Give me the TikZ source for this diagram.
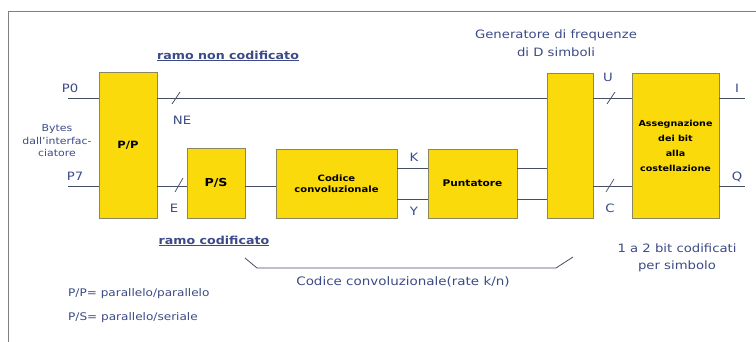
\documentclass[tikz,border=0pt]{standalone}
\usepackage{fontspec}
\setmainfont[FakeStretch=1.15]{DejaVu Sans}
\begin{document}
\begin{tikzpicture}[x=1pt,y=-1pt,
  blk/.style={draw=black!55!yellow!60!gray,line width=0.9pt,fill=yellowfill,inner sep=1pt,align=center,font=\fontsize{8.7}{11}\selectfont\bfseries},
  lbl/.style={text=labelblue,inner sep=0pt,font=\fontsize{11.5}{12}\selectfont},
  small/.style={text=labelblue,inner sep=0pt,align=center,font=\fontsize{8.5}{13}\selectfont},
  wire/.style={draw=wiregray,line width=0.9pt},
  slash/.style={draw=wiregray,line width=0.7pt}]
\definecolor{yellowfill}{RGB}{250,218,10}
\definecolor{labelblue}{RGB}{60,75,135}
\definecolor{wiregray}{RGB}{70,78,100}
\useasboundingbox (0,0) rectangle (756,342);
\fill[white] (0,0) rectangle (756,342);
% frame
\draw[gray,line width=0.8pt] (8,342) -- (8,11) -- (756,11);
% blocks
\node[blk,minimum width=58pt,minimum height=146pt,font=\fontsize{10}{11}\selectfont\bfseries] (pp) at (128,145) {P/P};
\node[blk,minimum width=58pt,minimum height=70pt,font=\fontsize{11}{12}\selectfont\bfseries] (ps) at (216,183) {P/S};
\node[blk,minimum width=121pt,minimum height=69pt] (cc) at (336.5,183.5) {Codice\\convoluzionale};
\node[blk,minimum width=89pt,minimum height=69pt,font=\fontsize{9.2}{11}\selectfont\bfseries] (pu) at (472.5,183.5) {Puntatore};
\node[blk,minimum width=46pt,minimum height=145pt] (gen) at (570,145.5) {};
\node[blk,minimum width=87pt,minimum height=145pt,font=\fontsize{8.3}{15}\selectfont\bfseries] (as) at (675.5,145.5) {Assegnazione\\dei bit\\alla\\costellazione};
% level coordinates
\coordinate (top) at (0,98);
\coordinate (bot) at (0,186);
\coordinate (kk) at (0,168);
\coordinate (yy) at (0,199);
\coordinate (p0) at (68,98);
\coordinate (p7) at (68,186);
\coordinate (iout) at (745,98);
\coordinate (qout) at (745,186);
% wires
\draw[wire] (p0) -- (pp.west |- top);
\draw[wire] (p7) -- (pp.west |- bot);
\draw[wire] (pp.east |- top) -- (gen.west |- top);
\draw[wire] (pp.east |- bot) -- (ps.west |- bot);
\draw[wire] (ps.east |- bot) -- (cc.west |- bot);
\draw[wire] (cc.east |- kk) -- (pu.west |- kk);
\draw[wire] (cc.east |- yy) -- (pu.west |- yy);
\draw[wire] (pu.east |- kk) -- (gen.west |- kk);
\draw[wire] (pu.east |- yy) -- (gen.west |- yy);
\draw[wire] (gen.east |- top) -- (as.west |- top);
\draw[wire] (gen.east |- bot) -- (as.west |- bot);
\draw[wire] (as.east |- top) -- (iout);
\draw[wire] (as.east |- bot) -- (qout);
% slashes
\draw[slash] (172,104) -- (180,92);
\draw[slash] (175,192) -- (183,178);
\draw[slash] (607,104) -- (615,92);
\draw[slash] (606,192) -- (614,179);
% labels
\node[lbl] (lp0) at (70,88) {P0};
\node[lbl] (lp7) at (75,176) {P7};
\node[small,font=\fontsize{9.5}{12.5}\selectfont] (bytes) at (57,141) {Bytes\\dall'interfac-\\ciatore};
\node[lbl] (lne) at (182,120) {NE};
\node[lbl] (le) at (174,208) {E};
\node[lbl] (lk) at (414,157) {K};
\node[lbl] (ly) at (414,211) {Y};
\node[lbl] (lu) at (608,77) {U};
\node[lbl] (lc) at (610,208) {C};
\node[lbl] (li) at (737,88) {I};
\node[lbl] (lq) at (737,177) {Q};
\node[lbl,font=\fontsize{11}{12}\selectfont\bfseries] (rnc) at (228,56) {\underline{ramo non codificato}};
\node[lbl,font=\fontsize{11}{12}\selectfont\bfseries] (rc) at (214,241) {\underline{ramo codificato}};
\node[small,font=\fontsize{11.5}{18}\selectfont] (gentxt) at (556,43) {Generatore di frequenze\\di D simboli};
\node[small,font=\fontsize{11.5}{17}\selectfont] (bits) at (677,258) {1 a 2 bit codificati\\per simbolo};
\node[lbl,font=\fontsize{11.7}{13}\selectfont] (ccr) at (403,282) {Codice convoluzionale(rate k/n)};
\node[small,anchor=west,font=\fontsize{10.5}{12}\selectfont] (leg1) at (68,294) {P/P= parallelo/parallelo};
\node[small,anchor=west,font=\fontsize{10.5}{12}\selectfont] (leg2) at (68,318) {P/S= parallelo/seriale};
% brace
\draw[wire,line width=0.8pt] (245,258) -- (257,268) -- (556,268) -- (573,257);
\end{tikzpicture}
\end{document}
